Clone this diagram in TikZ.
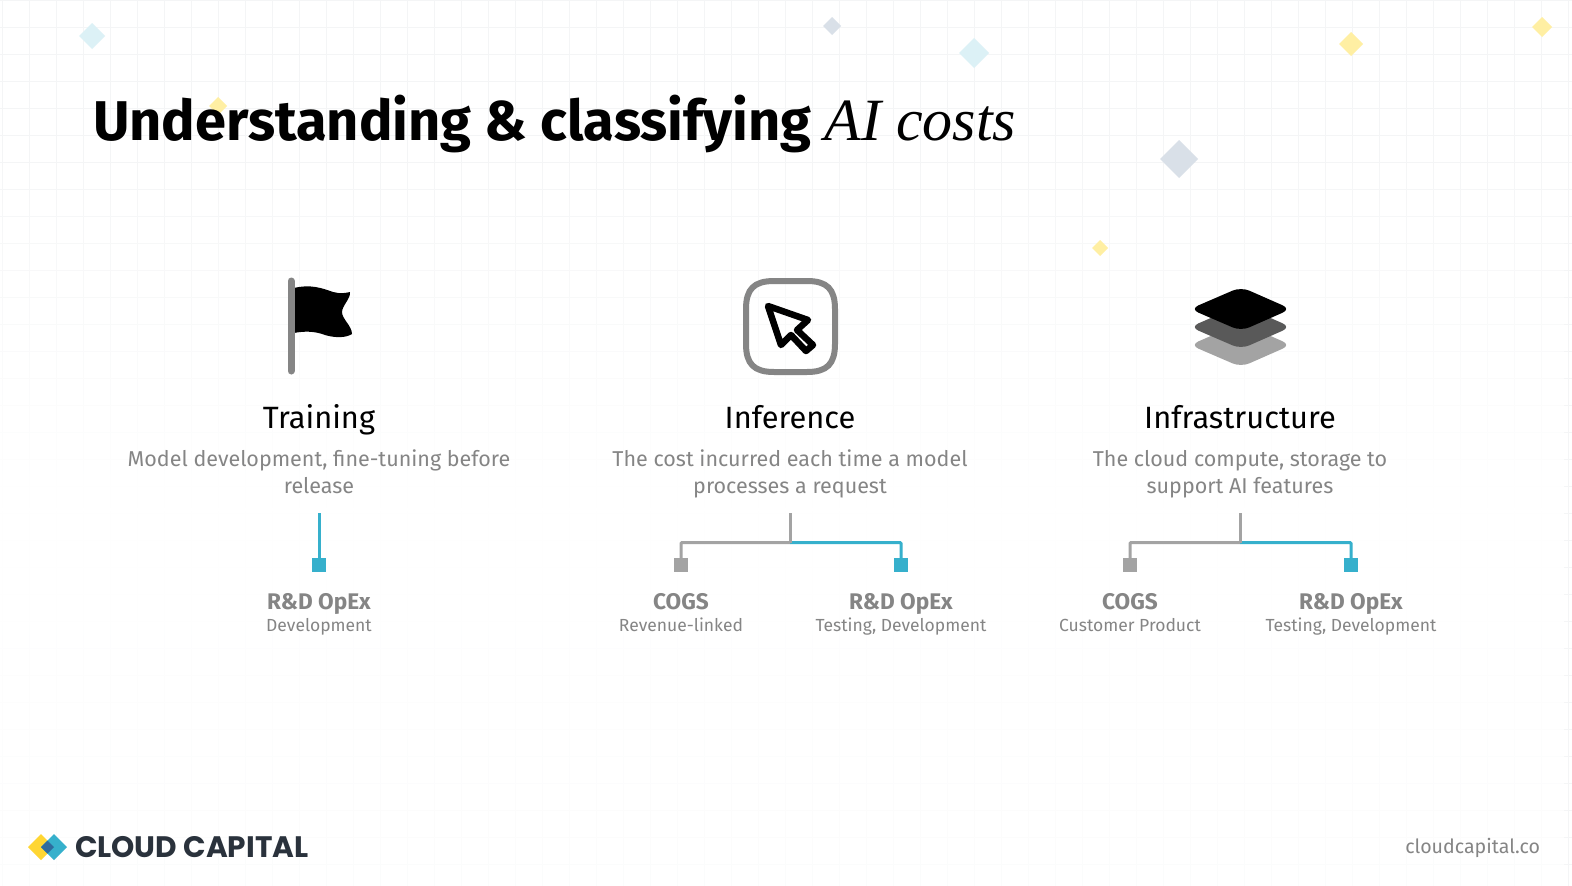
\documentclass[tikz,border=0pt]{standalone}
\usepackage{fontspec}
\setmainfont{Fira Sans}
\newfontfamily\logofont{Poppins}
\newfontfamily\titleital{Liberation Serif}
\usetikzlibrary{positioning,fadings}
\definecolor{ink}{HTML}{000000}
\definecolor{mute}{HTML}{858585}
\definecolor{teal}{HTML}{36B0CC}
\definecolor{stone}{HTML}{A3A3A3}
\definecolor{gridl}{HTML}{F4F5F6}
\definecolor{sky}{HTML}{DCF1F6}
\definecolor{sun}{HTML}{FFEFA3}
\definecolor{mist}{HTML}{D9E0E8}
\definecolor{slate}{HTML}{2A323C}
\definecolor{logosun}{HTML}{FFD633}
\definecolor{logodeep}{HTML}{2F6B9E}
\tikzfading[name=gridfade,top color=transparent!100,bottom color=transparent!30,middle color=transparent!0]
\begin{document}
\begin{tikzpicture}[x=1pt,y=-1pt,
  every node/.style={inner sep=0pt,outer sep=0pt},
  heading/.style={font=\fontsize{30.8}{34}\selectfont,text=ink,anchor=center,text height=24pt,text depth=7pt},
  blurb/.style={font=\fontsize{21.5}{27}\selectfont,text=mute,align=center,below=15pt of #1,execute at begin node=\strut},
  kind/.style={font=\fontsize{22.6}{24}\selectfont\bfseries,text=mute,anchor=center,text height=17pt,text depth=5pt},
  detail/.style={font=\fontsize{17.5}{20}\selectfont,text=mute,anchor=center,text height=14pt,text depth=4pt},
  sq/.style={minimum size=14pt,fill=#1},
  wire/.style={line width=3pt,draw=#1,rounded corners=1pt}]
\useasboundingbox (0,0) rectangle (1572,886);
\fill[white] (0,0) rectangle (1572,886);
% backdrop grid
\foreach \gx in {0,...,58} \draw[gridl,line width=1pt] (\gx*27+2,0) -- (\gx*27+2,886);
\foreach \gy in {0,...,32} \draw[gridl,line width=1pt] (0,\gy*27) -- (1572,\gy*27);
\fill[white,path fading=gridfade] (0,130) rectangle (1572,886);
% scattered diamonds
\foreach \dx/\dy/\dr/\dc in {92/36/13/sky,832/26/9/mist,974/53/15/sky,1351/44/12/sun,1542/27/10/sun,1179/159/19/mist,1100/248/8/sun,218/106/9/sun}
  \fill[\dc] (\dx-\dr,\dy) -- (\dx,\dy-\dr) -- (\dx+\dr,\dy) -- (\dx,\dy+\dr) -- cycle;
% title
\node[anchor=base west,font=\fontsize{56}{60}\selectfont\bfseries,text=ink] (title) at (93,140) {Understanding \& classifying {\titleital\fontsize{60}{60}\selectfont\mdseries\itshape AI costs}};
% flag
\fill[ink] (294,288) .. controls (310,284) and (322,288) .. (333,292) .. controls (340,294) and (346,293) .. (350,292) .. controls (351,298) and (342,306) .. (342,312) .. controls (342,319) and (352,326) .. (352,334) .. controls (346,338) and (335,338) .. (325,335) .. controls (315,331) and (304,331) .. (294,333) -- cycle;
\draw[mute,line width=7pt,line cap=round] (291,281) -- (291,371);
% cursor box
\draw[mute,line width=6pt] (774,281) -- (807,281) .. controls (827,281) and (835,289) .. (835,309) -- (835,344) .. controls (835,364) and (827,372) .. (807,372) -- (774,372) .. controls (754,372) and (746,364) .. (746,344) -- (746,309) .. controls (746,289) and (754,281) .. (774,281) -- cycle;
\draw[ink,line width=6.5pt,line join=round] (768,306) -- (808,320) -- (797,330) -- (813,345) -- (806,351) -- (791,335) -- (781,345) -- cycle;
% layers
\fill[stone,rounded corners=9pt] (1190,345) -- (1241,323) -- (1291,345) -- (1241,367) -- cycle;
\fill[black!65,rounded corners=9pt] (1190,327) -- (1241,305) -- (1291,327) -- (1241,349) -- cycle;
\fill[ink,rounded corners=9pt] (1190,309) -- (1241,287) -- (1291,309) -- (1241,331) -- cycle;
% training
\node[heading] (train) at (319,419.5) {Training};
\node[blurb=train] (traintext) {Model development, fine-tuning before\\release};
\coordinate (trainstem) at (319,513);
\node[sq=teal] (trainbox) at (319,565) {};
\node[kind] (trainkind) at (319,603) {R\&D OpEx};
\node[detail] (traindetail) at (319,626) {Development};
\draw[wire=teal] (trainstem) -- (trainbox);
% inference
\node[heading] (infer) at (790,419.5) {Inference};
\node[blurb=infer] (infertext) {The cost incurred each time a model\\processes a request};
\coordinate (inferstem) at (790,513);
\coordinate (inferjoin) at (790,542.5);
\node[sq=stone] (inferleft) at (681,565) {};
\node[sq=teal] (inferright) at (901,565) {};
\node[kind] (inferkinda) at (681,603) {COGS};
\node[detail] (inferdeta) at (681,626) {Revenue-linked};
\node[kind] (inferkindb) at (901,603) {R\&D OpEx};
\node[detail] (inferdetb) at (901,626) {Testing, Development};
\draw[wire=teal] (inferjoin) -| (inferright);
\draw[wire=stone] (inferjoin) -| (inferleft);
\draw[wire=stone] (inferstem) -- (inferjoin);
% infrastructure
\node[heading] (infra) at (1240,419.5) {Infrastructure};
\node[blurb=infra] (infratext) {The cloud compute, storage to\\support AI features};
\coordinate (infrastem) at (1240,513);
\coordinate (infrajoin) at (1240,542.5);
\node[sq=stone] (infraleft) at (1130,565) {};
\node[sq=teal] (infraright) at (1351,565) {};
\node[kind] (infrakinda) at (1130,603) {COGS};
\node[detail] (infradeta) at (1130,626) {Customer Product};
\node[kind] (infrakindb) at (1351,603) {R\&D OpEx};
\node[detail] (infradetb) at (1351,626) {Testing, Development};
\draw[wire=teal] (infrajoin) -| (infraright);
\draw[wire=stone] (infrajoin) -| (infraleft);
\draw[wire=stone] (infrastem) -- (infrajoin);
% footer
\fill[logosun] (28,847) -- (41,834) -- (54,847) -- (41,860) -- cycle;
\fill[teal] (41,847) -- (54,834) -- (67,847) -- (54,860) -- cycle;
\fill[logodeep] (41,847) -- (47.5,840.5) -- (54,847) -- (47.5,853.5) -- cycle;
\node[anchor=west,font=\logofont\fontsize{29.6}{34}\selectfont\bfseries,text=slate] (logo) at (75,847) {CLOUD CAPITAL};
\node[anchor=base east,font=\fontsize{19.6}{24}\selectfont,text=mute] (site) at (1540,853) {cloudcapital.co};
\end{tikzpicture}
\end{document}
